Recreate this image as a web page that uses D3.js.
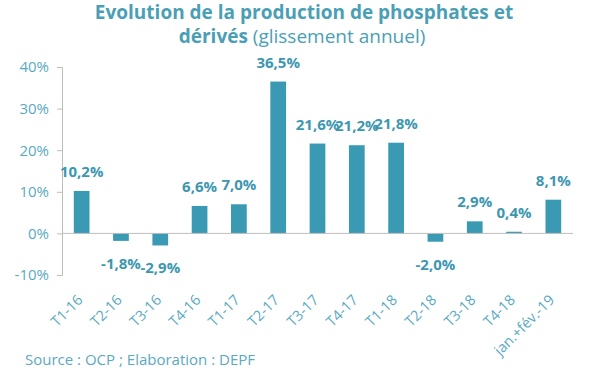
<!DOCTYPE html>
<html>
<head>
<meta charset="utf-8">
<script src="https://cdn.jsdelivr.net/npm/d3@7"></script>
<style>
  body { margin: 0; background: #fff; }
  svg { font-family: "Open Sans", "Noto Sans", sans-serif; }
</style>
</head>
<body>
<svg id="chart" width="600" height="372"></svg>
<script>
// periods and year-on-year growth (%)
const periods = ['T1-16', 'T2-16', 'T3-16', 'T4-16', 'T1-17', 'T2-17', 'T3-17',
    'T4-17', 'T1-18', 'T2-18', 'T3-18', 'T4-18', 'jan.+fév.-19'];
const growth = [10.2, -1.8, -2.9, 6.6, 7.0, 36.5, 21.6, 21.2, 21.8, -2.0, 2.9, 0.4, 8.1];
const yTicks = [-10, 0, 10, 20, 30, 40];

const barColor = '#3a9ab4';
const labelColor = '#3d97b0';
const axisColor = '#5aaabf';

let svg = d3.select('#chart');

let x = d3.scaleBand()
    .domain(periods)
    .range([62, 573])
    .paddingInner(0.6)
    .paddingOuter(0.3);

let y = d3.scaleLinear()
    .domain([-10, 40])
    .range([275, 67]);

// title
let title = svg.append('text')
    .attr('text-anchor', 'middle')
    .attr('fill', '#4a9fb5')
    .style('font-size', '19px');
title.append('tspan')
    .attr('x', 304).attr('y', 19)
    .style('font-weight', 'bold')
    .text('Evolution de la production de phosphates et');
title.append('tspan')
    .attr('x', 302).attr('y', 43)
    .style('font-weight', 'bold')
    .text('dérivés ');
title.append('tspan')
    .text('(glissement annuel)');

// y axis
let yAxis = svg.append('g')
    .attr('transform', 'translate(62,0)')
    .call(d3.axisLeft(y).tickValues(yTicks).tickSize(5).tickPadding(8)
        .tickFormat(d => d + '%'));
yAxis.select('.domain').attr('stroke', '#bdbdbd');
yAxis.selectAll('.tick line').attr('stroke', '#bdbdbd');
yAxis.selectAll('.tick text')
    .attr('fill', axisColor)
    .style('font-size', '15px')
    .style('font-family', '"Open Sans", sans-serif');

// bars
svg.append('g')
    .selectAll('rect')
    .data(growth)
    .enter()
    .append('rect')
    .attr('x', (d, i) => x(periods[i]))
    .attr('width', x.bandwidth())
    .attr('y', d => y(Math.max(0, d)))
    .attr('height', d => Math.abs(y(d) - y(0)))
    .attr('fill', barColor);

// zero line
svg.append('line')
    .attr('x1', 62).attr('x2', 573)
    .attr('y1', y(0)).attr('y2', y(0))
    .attr('stroke', '#bdbdbd');

// value labels
svg.append('g')
    .selectAll('text')
    .data(growth)
    .enter()
    .append('text')
    .attr('x', (d, i) => x(periods[i]) + x.bandwidth() / 2)
    .attr('y', d => d >= 0 ? y(d) - 14 : y(d) + 28)
    .attr('text-anchor', 'middle')
    .attr('fill', labelColor)
    .style('font-size', '15px')
    .style('font-weight', 'bold')
    .text(d => d.toFixed(1).replace('.', ',') + '%');

// x labels
svg.append('g')
    .selectAll('text')
    .data(periods)
    .enter()
    .append('text')
    .attr('transform', d => 'translate(' + (x(d) + x.bandwidth() / 2 + 2) + ',301) rotate(-45)')
    .attr('text-anchor', 'end')
    .attr('fill', axisColor)
    .style('font-size', '14.5px')
    .text(d => d);

// source
svg.append('text')
    .attr('x', 25)
    .attr('y', 365)
    .attr('fill', axisColor)
    .style('font-size', '15px')
    .text('Source : OCP ; Elaboration : DEPF');
</script>
</body>
</html>
